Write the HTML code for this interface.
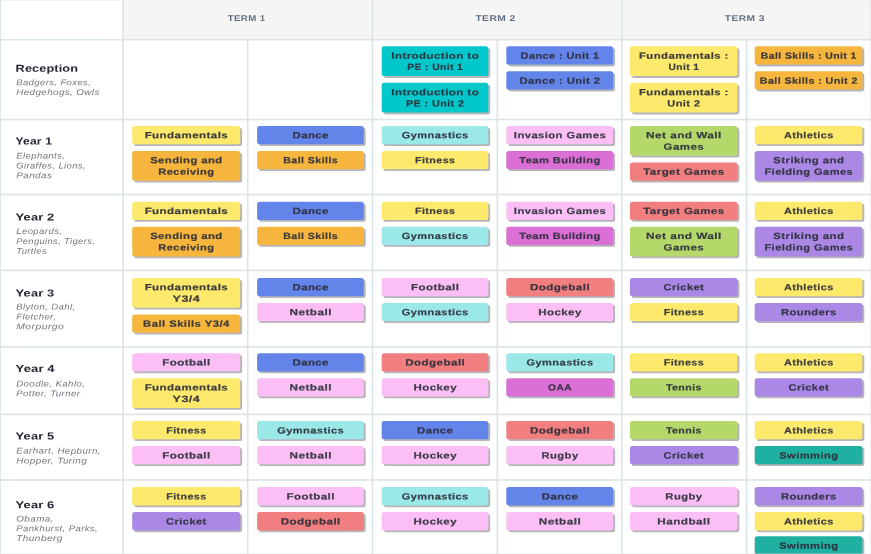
<!DOCTYPE html>
<html lang="en"><head><meta charset="utf-8"><title>PE Curriculum Map</title>
<style>html,body{margin:0;padding:0;background:#fff;overflow:hidden}svg{display:block}text{font-family:"Liberation Sans",sans-serif;text-rendering:geometricPrecision}.c{font-weight:bold;font-size:9.0px;fill:#2b2d3a;fill-opacity:.9;stroke:#2b2d3a;stroke-width:.2px;stroke-opacity:.9;text-anchor:middle;letter-spacing:0.35px}.t{font-weight:bold;font-size:10.2px;fill:#23252f;letter-spacing:0.1px}.s{font-style:italic;font-size:8.4px;fill:#74767f;letter-spacing:0.35px}.h{font-weight:bold;font-size:8.4px;fill:#5f6f83;text-anchor:middle;letter-spacing:0.35px}</style></head><body>
<svg width="871" height="554" viewBox="0 0 871 554">
<rect width="871" height="554" fill="#fff"/>
<rect x="123.1" y="0" width="748" height="39.7" fill="#f5f5f5"/>
<rect x="0" y="0" width="871" height="0.8" fill="#eeefef"/>
<rect x="122.30" y="0" width="1.6" height="554" fill="#dbe4e7"/>
<rect x="246.90" y="39.7" width="1.6" height="554" fill="#dbe4e7"/>
<rect x="371.70" y="0" width="1.6" height="554" fill="#dbe4e7"/>
<rect x="496.50" y="39.7" width="1.6" height="554" fill="#dbe4e7"/>
<rect x="621.10" y="0" width="1.6" height="554" fill="#dbe4e7"/>
<rect x="745.80" y="39.7" width="1.6" height="554" fill="#dbe4e7"/>
<rect x="0" y="0" width="0.9" height="554" fill="#dbe4e7"/>
<rect x="0" y="38.90" width="871" height="1.6" fill="#dbe4e7"/>
<rect x="0" y="118.70" width="871" height="1.6" fill="#dbe4e7"/>
<rect x="0" y="193.70" width="871" height="1.6" fill="#dbe4e7"/>
<rect x="0" y="269.60" width="871" height="1.6" fill="#dbe4e7"/>
<rect x="0" y="346.00" width="871" height="1.6" fill="#dbe4e7"/>
<rect x="0" y="413.60" width="871" height="1.6" fill="#dbe4e7"/>
<rect x="0" y="479.20" width="871" height="1.6" fill="#dbe4e7"/>
<text class="h" transform="translate(246.6 21) rotate(.03) scale(1.155 1)">TERM 1</text>
<text class="h" transform="translate(495.5 21) rotate(.03) scale(1.223 1)">TERM 2</text>
<text class="h" transform="translate(744.8 21) rotate(.03) scale(1.216 1)">TERM 3</text>
<text class="t" transform="translate(15.6 71.7) rotate(.03) scale(1.247 1)">Reception</text>
<text class="s" transform="translate(16.2 85.2) rotate(.03) scale(1.134 1)">Badgers, Foxes,</text>
<text class="s" transform="translate(16.2 95.0) rotate(.03) scale(1.171 1)">Hedgehogs, Owls</text>
<rect x="383.6" y="48.1" width="106.6" height="29.8" rx="2.6" fill="#888890" opacity="0.62"/>
<rect x="381.7" y="46.3" width="106.6" height="29.8" rx="2.6" fill="#02c8cc"/>
<text class="c" transform="translate(435.2 58.7) rotate(.03) scale(1.277 1)">Introduction to</text>
<text class="c" transform="translate(435.2 70.1) rotate(.03) scale(1.148 1)">PE : Unit 1</text>
<rect x="383.6" y="84.6" width="106.6" height="29.8" rx="2.6" fill="#888890" opacity="0.62"/>
<rect x="381.7" y="82.8" width="106.6" height="29.8" rx="2.6" fill="#02c8cc"/>
<text class="c" transform="translate(435.2 95.2) rotate(.03) scale(1.277 1)">Introduction to</text>
<text class="c" transform="translate(435.2 106.6) rotate(.03) scale(1.196 1)">PE : Unit 2</text>
<rect x="508.2" y="48.1" width="106.9" height="18.3" rx="2.6" fill="#888890" opacity="0.62"/>
<rect x="506.3" y="46.3" width="106.9" height="18.3" rx="2.6" fill="#6384e8"/>
<text class="c" transform="translate(560.0 58.7) rotate(.03) scale(1.214 1)">Dance : Unit 1</text>
<rect x="508.2" y="73.1" width="106.9" height="18.3" rx="2.6" fill="#888890" opacity="0.62"/>
<rect x="506.3" y="71.3" width="106.9" height="18.3" rx="2.6" fill="#6384e8"/>
<text class="c" transform="translate(560.0 83.7) rotate(.03) scale(1.245 1)">Dance : Unit 2</text>
<rect x="631.8" y="48.1" width="107.6" height="29.8" rx="2.6" fill="#888890" opacity="0.62"/>
<rect x="629.9" y="46.3" width="107.6" height="29.8" rx="2.6" fill="#fde96b"/>
<text class="c" transform="translate(683.9 58.7) rotate(.03) scale(1.257 1)">Fundamentals :</text>
<text class="c" transform="translate(683.9 70.1) rotate(.03) scale(1.136 1)">Unit 1</text>
<rect x="631.8" y="84.6" width="107.6" height="29.8" rx="2.6" fill="#888890" opacity="0.62"/>
<rect x="629.9" y="82.8" width="107.6" height="29.8" rx="2.6" fill="#fde96b"/>
<text class="c" transform="translate(683.9 95.2) rotate(.03) scale(1.257 1)">Fundamentals :</text>
<text class="c" transform="translate(683.9 106.6) rotate(.03) scale(1.222 1)">Unit 2</text>
<rect x="756.6" y="48.1" width="107.7" height="18.3" rx="2.6" fill="#888890" opacity="0.62"/>
<rect x="754.7" y="46.3" width="107.7" height="18.3" rx="2.6" fill="#f6b63e"/>
<text class="c" transform="translate(808.8 58.7) rotate(.03) scale(1.162 1)">Ball Skills : Unit 1</text>
<rect x="756.6" y="73.1" width="107.7" height="18.3" rx="2.6" fill="#888890" opacity="0.62"/>
<rect x="754.7" y="71.3" width="107.7" height="18.3" rx="2.6" fill="#f6b63e"/>
<text class="c" transform="translate(808.8 83.7) rotate(.03) scale(1.188 1)">Ball Skills : Unit 2</text>
<text class="t" transform="translate(15.6 144.5) rotate(.03) scale(1.188 1)">Year 1</text>
<text class="s" transform="translate(16.2 158.6) rotate(.03) scale(1.141 1)">Elephants,</text>
<text class="s" transform="translate(16.2 168.4) rotate(.03) scale(1.127 1)">Giraffes, Lions,</text>
<text class="s" transform="translate(16.2 178.3) rotate(.03) scale(1.184 1)">Pandas</text>
<rect x="134.1" y="127.7" width="108.0" height="18.3" rx="2.6" fill="#888890" opacity="0.62"/>
<rect x="132.2" y="125.9" width="108.0" height="18.3" rx="2.6" fill="#fde96b"/>
<text class="c" transform="translate(186.4 138.3) rotate(.03) scale(1.281 1)">Fundamentals</text>
<rect x="134.1" y="152.7" width="108.0" height="29.8" rx="2.6" fill="#888890" opacity="0.62"/>
<rect x="132.2" y="150.9" width="108.0" height="29.8" rx="2.6" fill="#f6b63e"/>
<text class="c" transform="translate(186.4 163.3) rotate(.03) scale(1.254 1)">Sending and</text>
<text class="c" transform="translate(186.4 174.7) rotate(.03) scale(1.229 1)">Receiving</text>
<rect x="259.0" y="127.7" width="106.7" height="18.3" rx="2.6" fill="#888890" opacity="0.62"/>
<rect x="257.1" y="125.9" width="106.7" height="18.3" rx="2.6" fill="#6384e8"/>
<text class="c" transform="translate(310.7 138.3) rotate(.03) scale(1.264 1)">Dance</text>
<rect x="259.0" y="152.7" width="106.7" height="18.3" rx="2.6" fill="#888890" opacity="0.62"/>
<rect x="257.1" y="150.9" width="106.7" height="18.3" rx="2.6" fill="#f6b63e"/>
<text class="c" transform="translate(310.7 163.3) rotate(.03) scale(1.184 1)">Ball Skills</text>
<rect x="383.6" y="127.7" width="106.6" height="18.3" rx="2.6" fill="#888890" opacity="0.62"/>
<rect x="381.7" y="125.9" width="106.6" height="18.3" rx="2.6" fill="#9ae8e7"/>
<text class="c" transform="translate(435.2 138.3) rotate(.03) scale(1.229 1)">Gymnastics</text>
<rect x="383.6" y="152.7" width="106.6" height="18.3" rx="2.6" fill="#888890" opacity="0.62"/>
<rect x="381.7" y="150.9" width="106.6" height="18.3" rx="2.6" fill="#fde96b"/>
<text class="c" transform="translate(435.2 163.3) rotate(.03) scale(1.187 1)">Fitness</text>
<rect x="508.2" y="127.7" width="106.9" height="18.3" rx="2.6" fill="#888890" opacity="0.62"/>
<rect x="506.3" y="125.9" width="106.9" height="18.3" rx="2.6" fill="#fbbff5"/>
<text class="c" transform="translate(560.0 138.3) rotate(.03) scale(1.248 1)">Invasion Games</text>
<rect x="508.2" y="152.7" width="106.9" height="18.3" rx="2.6" fill="#888890" opacity="0.62"/>
<rect x="506.3" y="150.9" width="106.9" height="18.3" rx="2.6" fill="#dc6fd5"/>
<text class="c" transform="translate(560.0 163.3) rotate(.03) scale(1.234 1)">Team Building</text>
<rect x="631.8" y="127.7" width="107.6" height="29.8" rx="2.6" fill="#888890" opacity="0.62"/>
<rect x="629.9" y="125.9" width="107.6" height="29.8" rx="2.6" fill="#b5d86a"/>
<text class="c" transform="translate(683.9 138.3) rotate(.03) scale(1.307 1)">Net and Wall</text>
<text class="c" transform="translate(683.9 149.7) rotate(.03) scale(1.280 1)">Games</text>
<rect x="631.8" y="164.2" width="107.6" height="18.3" rx="2.6" fill="#888890" opacity="0.62"/>
<rect x="629.9" y="162.4" width="107.6" height="18.3" rx="2.6" fill="#f17f7f"/>
<text class="c" transform="translate(683.9 174.8) rotate(.03) scale(1.280 1)">Target Games</text>
<rect x="756.6" y="127.7" width="107.7" height="18.3" rx="2.6" fill="#888890" opacity="0.62"/>
<rect x="754.7" y="125.9" width="107.7" height="18.3" rx="2.6" fill="#fde96b"/>
<text class="c" transform="translate(808.8 138.3) rotate(.03) scale(1.211 1)">Athletics</text>
<rect x="756.6" y="152.7" width="107.7" height="29.8" rx="2.6" fill="#888890" opacity="0.62"/>
<rect x="754.7" y="150.9" width="107.7" height="29.8" rx="2.6" fill="#ab88e5"/>
<text class="c" transform="translate(808.8 163.3) rotate(.03) scale(1.264 1)">Striking and</text>
<text class="c" transform="translate(808.8 174.7) rotate(.03) scale(1.235 1)">Fielding Games</text>
<text class="t" transform="translate(15.6 220.5) rotate(.03) scale(1.263 1)">Year 2</text>
<text class="s" transform="translate(16.2 234.1) rotate(.03) scale(1.143 1)">Leopards,</text>
<text class="s" transform="translate(16.2 243.9) rotate(.03) scale(1.112 1)">Penguins, Tigers,</text>
<text class="s" transform="translate(16.2 253.8) rotate(.03) scale(1.123 1)">Turtles</text>
<rect x="134.1" y="203.5" width="108.0" height="18.3" rx="2.6" fill="#888890" opacity="0.62"/>
<rect x="132.2" y="201.7" width="108.0" height="18.3" rx="2.6" fill="#fde96b"/>
<text class="c" transform="translate(186.4 214.1) rotate(.03) scale(1.281 1)">Fundamentals</text>
<rect x="134.1" y="228.5" width="108.0" height="29.8" rx="2.6" fill="#888890" opacity="0.62"/>
<rect x="132.2" y="226.7" width="108.0" height="29.8" rx="2.6" fill="#f6b63e"/>
<text class="c" transform="translate(186.4 239.1) rotate(.03) scale(1.254 1)">Sending and</text>
<text class="c" transform="translate(186.4 250.5) rotate(.03) scale(1.229 1)">Receiving</text>
<rect x="259.0" y="203.5" width="106.7" height="18.3" rx="2.6" fill="#888890" opacity="0.62"/>
<rect x="257.1" y="201.7" width="106.7" height="18.3" rx="2.6" fill="#6384e8"/>
<text class="c" transform="translate(310.7 214.1) rotate(.03) scale(1.264 1)">Dance</text>
<rect x="259.0" y="228.5" width="106.7" height="18.3" rx="2.6" fill="#888890" opacity="0.62"/>
<rect x="257.1" y="226.7" width="106.7" height="18.3" rx="2.6" fill="#f6b63e"/>
<text class="c" transform="translate(310.7 239.1) rotate(.03) scale(1.184 1)">Ball Skills</text>
<rect x="383.6" y="203.5" width="106.6" height="18.3" rx="2.6" fill="#888890" opacity="0.62"/>
<rect x="381.7" y="201.7" width="106.6" height="18.3" rx="2.6" fill="#fde96b"/>
<text class="c" transform="translate(435.2 214.1) rotate(.03) scale(1.187 1)">Fitness</text>
<rect x="383.6" y="228.5" width="106.6" height="18.3" rx="2.6" fill="#888890" opacity="0.62"/>
<rect x="381.7" y="226.7" width="106.6" height="18.3" rx="2.6" fill="#9ae8e7"/>
<text class="c" transform="translate(435.2 239.1) rotate(.03) scale(1.229 1)">Gymnastics</text>
<rect x="508.2" y="203.5" width="106.9" height="18.3" rx="2.6" fill="#888890" opacity="0.62"/>
<rect x="506.3" y="201.7" width="106.9" height="18.3" rx="2.6" fill="#fbbff5"/>
<text class="c" transform="translate(560.0 214.1) rotate(.03) scale(1.248 1)">Invasion Games</text>
<rect x="508.2" y="228.5" width="106.9" height="18.3" rx="2.6" fill="#888890" opacity="0.62"/>
<rect x="506.3" y="226.7" width="106.9" height="18.3" rx="2.6" fill="#dc6fd5"/>
<text class="c" transform="translate(560.0 239.1) rotate(.03) scale(1.234 1)">Team Building</text>
<rect x="631.8" y="203.5" width="107.6" height="18.3" rx="2.6" fill="#888890" opacity="0.62"/>
<rect x="629.9" y="201.7" width="107.6" height="18.3" rx="2.6" fill="#f17f7f"/>
<text class="c" transform="translate(683.9 214.1) rotate(.03) scale(1.280 1)">Target Games</text>
<rect x="631.8" y="228.5" width="107.6" height="29.8" rx="2.6" fill="#888890" opacity="0.62"/>
<rect x="629.9" y="226.7" width="107.6" height="29.8" rx="2.6" fill="#b5d86a"/>
<text class="c" transform="translate(683.9 239.1) rotate(.03) scale(1.307 1)">Net and Wall</text>
<text class="c" transform="translate(683.9 250.5) rotate(.03) scale(1.280 1)">Games</text>
<rect x="756.6" y="203.5" width="107.7" height="18.3" rx="2.6" fill="#888890" opacity="0.62"/>
<rect x="754.7" y="201.7" width="107.7" height="18.3" rx="2.6" fill="#fde96b"/>
<text class="c" transform="translate(808.8 214.1) rotate(.03) scale(1.211 1)">Athletics</text>
<rect x="756.6" y="228.5" width="107.7" height="29.8" rx="2.6" fill="#888890" opacity="0.62"/>
<rect x="754.7" y="226.7" width="107.7" height="29.8" rx="2.6" fill="#ab88e5"/>
<text class="c" transform="translate(808.8 239.1) rotate(.03) scale(1.264 1)">Striking and</text>
<text class="c" transform="translate(808.8 250.5) rotate(.03) scale(1.235 1)">Fielding Games</text>
<text class="t" transform="translate(15.6 296.5) rotate(.03) scale(1.263 1)">Year 3</text>
<text class="s" transform="translate(16.2 309.6) rotate(.03) scale(1.142 1)">Blyton, Dahl,</text>
<text class="s" transform="translate(16.2 319.5) rotate(.03) scale(1.134 1)">Fletcher,</text>
<text class="s" transform="translate(16.2 329.3) rotate(.03) scale(1.245 1)">Morpurgo</text>
<rect x="134.1" y="279.7" width="108.0" height="29.8" rx="2.6" fill="#888890" opacity="0.62"/>
<rect x="132.2" y="277.9" width="108.0" height="29.8" rx="2.6" fill="#fde96b"/>
<text class="c" transform="translate(186.4 290.3) rotate(.03) scale(1.281 1)">Fundamentals</text>
<text class="c" transform="translate(186.4 301.7) rotate(.03) scale(1.395 1)">Y3/4</text>
<rect x="134.1" y="316.2" width="108.0" height="18.3" rx="2.6" fill="#888890" opacity="0.62"/>
<rect x="132.2" y="314.4" width="108.0" height="18.3" rx="2.6" fill="#f6b63e"/>
<text class="c" transform="translate(186.4 326.8) rotate(.03) scale(1.255 1)">Ball Skills Y3/4</text>
<rect x="259.0" y="279.7" width="106.7" height="18.3" rx="2.6" fill="#888890" opacity="0.62"/>
<rect x="257.1" y="277.9" width="106.7" height="18.3" rx="2.6" fill="#6384e8"/>
<text class="c" transform="translate(310.7 290.3) rotate(.03) scale(1.264 1)">Dance</text>
<rect x="259.0" y="304.7" width="106.7" height="18.3" rx="2.6" fill="#888890" opacity="0.62"/>
<rect x="257.1" y="302.9" width="106.7" height="18.3" rx="2.6" fill="#fbbff5"/>
<text class="c" transform="translate(310.7 315.3) rotate(.03) scale(1.305 1)">Netball</text>
<rect x="383.6" y="279.7" width="106.6" height="18.3" rx="2.6" fill="#888890" opacity="0.62"/>
<rect x="381.7" y="277.9" width="106.6" height="18.3" rx="2.6" fill="#fbbff5"/>
<text class="c" transform="translate(435.2 290.3) rotate(.03) scale(1.279 1)">Football</text>
<rect x="383.6" y="304.7" width="106.6" height="18.3" rx="2.6" fill="#888890" opacity="0.62"/>
<rect x="381.7" y="302.9" width="106.6" height="18.3" rx="2.6" fill="#9ae8e7"/>
<text class="c" transform="translate(435.2 315.3) rotate(.03) scale(1.229 1)">Gymnastics</text>
<rect x="508.2" y="279.7" width="106.9" height="18.3" rx="2.6" fill="#888890" opacity="0.62"/>
<rect x="506.3" y="277.9" width="106.9" height="18.3" rx="2.6" fill="#f17f7f"/>
<text class="c" transform="translate(560.0 290.3) rotate(.03) scale(1.289 1)">Dodgeball</text>
<rect x="508.2" y="304.7" width="106.9" height="18.3" rx="2.6" fill="#888890" opacity="0.62"/>
<rect x="506.3" y="302.9" width="106.9" height="18.3" rx="2.6" fill="#fbbff5"/>
<text class="c" transform="translate(560.0 315.3) rotate(.03) scale(1.276 1)">Hockey</text>
<rect x="631.8" y="279.7" width="107.6" height="18.3" rx="2.6" fill="#888890" opacity="0.62"/>
<rect x="629.9" y="277.9" width="107.6" height="18.3" rx="2.6" fill="#ab88e5"/>
<text class="c" transform="translate(683.9 290.3) rotate(.03) scale(1.232 1)">Cricket</text>
<rect x="631.8" y="304.7" width="107.6" height="18.3" rx="2.6" fill="#888890" opacity="0.62"/>
<rect x="629.9" y="302.9" width="107.6" height="18.3" rx="2.6" fill="#fde96b"/>
<text class="c" transform="translate(683.9 315.3) rotate(.03) scale(1.187 1)">Fitness</text>
<rect x="756.6" y="279.7" width="107.7" height="18.3" rx="2.6" fill="#888890" opacity="0.62"/>
<rect x="754.7" y="277.9" width="107.7" height="18.3" rx="2.6" fill="#fde96b"/>
<text class="c" transform="translate(808.8 290.3) rotate(.03) scale(1.211 1)">Athletics</text>
<rect x="756.6" y="304.7" width="107.7" height="18.3" rx="2.6" fill="#888890" opacity="0.62"/>
<rect x="754.7" y="302.9" width="107.7" height="18.3" rx="2.6" fill="#ab88e5"/>
<text class="c" transform="translate(808.8 315.3) rotate(.03) scale(1.246 1)">Rounders</text>
<text class="t" transform="translate(15.6 372.1) rotate(.03) scale(1.276 1)">Year 4</text>
<text class="s" transform="translate(16.2 386.4) rotate(.03) scale(1.155 1)">Doodle, Kahlo,</text>
<text class="s" transform="translate(16.2 396.2) rotate(.03) scale(1.157 1)">Potter, Turner</text>
<rect x="134.1" y="355.0" width="108.0" height="18.3" rx="2.6" fill="#888890" opacity="0.62"/>
<rect x="132.2" y="353.2" width="108.0" height="18.3" rx="2.6" fill="#fbbff5"/>
<text class="c" transform="translate(186.4 365.6) rotate(.03) scale(1.279 1)">Football</text>
<rect x="134.1" y="380.0" width="108.0" height="29.8" rx="2.6" fill="#888890" opacity="0.62"/>
<rect x="132.2" y="378.2" width="108.0" height="29.8" rx="2.6" fill="#fde96b"/>
<text class="c" transform="translate(186.4 390.6) rotate(.03) scale(1.281 1)">Fundamentals</text>
<text class="c" transform="translate(186.4 402.0) rotate(.03) scale(1.395 1)">Y3/4</text>
<rect x="259.0" y="355.0" width="106.7" height="18.3" rx="2.6" fill="#888890" opacity="0.62"/>
<rect x="257.1" y="353.2" width="106.7" height="18.3" rx="2.6" fill="#6384e8"/>
<text class="c" transform="translate(310.7 365.6) rotate(.03) scale(1.264 1)">Dance</text>
<rect x="259.0" y="380.0" width="106.7" height="18.3" rx="2.6" fill="#888890" opacity="0.62"/>
<rect x="257.1" y="378.2" width="106.7" height="18.3" rx="2.6" fill="#fbbff5"/>
<text class="c" transform="translate(310.7 390.6) rotate(.03) scale(1.305 1)">Netball</text>
<rect x="383.6" y="355.0" width="106.6" height="18.3" rx="2.6" fill="#888890" opacity="0.62"/>
<rect x="381.7" y="353.2" width="106.6" height="18.3" rx="2.6" fill="#f17f7f"/>
<text class="c" transform="translate(435.2 365.6) rotate(.03) scale(1.289 1)">Dodgeball</text>
<rect x="383.6" y="380.0" width="106.6" height="18.3" rx="2.6" fill="#888890" opacity="0.62"/>
<rect x="381.7" y="378.2" width="106.6" height="18.3" rx="2.6" fill="#fbbff5"/>
<text class="c" transform="translate(435.2 390.6) rotate(.03) scale(1.276 1)">Hockey</text>
<rect x="508.2" y="355.0" width="106.9" height="18.3" rx="2.6" fill="#888890" opacity="0.62"/>
<rect x="506.3" y="353.2" width="106.9" height="18.3" rx="2.6" fill="#9ae8e7"/>
<text class="c" transform="translate(560.0 365.6) rotate(.03) scale(1.229 1)">Gymnastics</text>
<rect x="508.2" y="380.0" width="106.9" height="18.3" rx="2.6" fill="#888890" opacity="0.62"/>
<rect x="506.3" y="378.2" width="106.9" height="18.3" rx="2.6" fill="#dc6fd5"/>
<text class="c" transform="translate(560.0 390.6) rotate(.03) scale(1.135 1)">OAA</text>
<rect x="631.8" y="355.0" width="107.6" height="18.3" rx="2.6" fill="#888890" opacity="0.62"/>
<rect x="629.9" y="353.2" width="107.6" height="18.3" rx="2.6" fill="#fde96b"/>
<text class="c" transform="translate(683.9 365.6) rotate(.03) scale(1.187 1)">Fitness</text>
<rect x="631.8" y="380.0" width="107.6" height="18.3" rx="2.6" fill="#888890" opacity="0.62"/>
<rect x="629.9" y="378.2" width="107.6" height="18.3" rx="2.6" fill="#b5d86a"/>
<text class="c" transform="translate(683.9 390.6) rotate(.03) scale(1.183 1)">Tennis</text>
<rect x="756.6" y="355.0" width="107.7" height="18.3" rx="2.6" fill="#888890" opacity="0.62"/>
<rect x="754.7" y="353.2" width="107.7" height="18.3" rx="2.6" fill="#fde96b"/>
<text class="c" transform="translate(808.8 365.6) rotate(.03) scale(1.211 1)">Athletics</text>
<rect x="756.6" y="380.0" width="107.7" height="18.3" rx="2.6" fill="#888890" opacity="0.62"/>
<rect x="754.7" y="378.2" width="107.7" height="18.3" rx="2.6" fill="#ab88e5"/>
<text class="c" transform="translate(808.8 390.6) rotate(.03) scale(1.232 1)">Cricket</text>
<text class="t" transform="translate(15.6 439.5) rotate(.03) scale(1.263 1)">Year 5</text>
<text class="s" transform="translate(16.2 453.6) rotate(.03) scale(1.168 1)">Earhart, Hepburn,</text>
<text class="s" transform="translate(16.2 463.5) rotate(.03) scale(1.188 1)">Hopper, Turing</text>
<rect x="134.1" y="422.8" width="108.0" height="18.3" rx="2.6" fill="#888890" opacity="0.62"/>
<rect x="132.2" y="421.0" width="108.0" height="18.3" rx="2.6" fill="#fde96b"/>
<text class="c" transform="translate(186.4 433.4) rotate(.03) scale(1.187 1)">Fitness</text>
<rect x="134.1" y="447.8" width="108.0" height="18.3" rx="2.6" fill="#888890" opacity="0.62"/>
<rect x="132.2" y="446.0" width="108.0" height="18.3" rx="2.6" fill="#fbbff5"/>
<text class="c" transform="translate(186.4 458.4) rotate(.03) scale(1.279 1)">Football</text>
<rect x="259.0" y="422.8" width="106.7" height="18.3" rx="2.6" fill="#888890" opacity="0.62"/>
<rect x="257.1" y="421.0" width="106.7" height="18.3" rx="2.6" fill="#9ae8e7"/>
<text class="c" transform="translate(310.7 433.4) rotate(.03) scale(1.229 1)">Gymnastics</text>
<rect x="259.0" y="447.8" width="106.7" height="18.3" rx="2.6" fill="#888890" opacity="0.62"/>
<rect x="257.1" y="446.0" width="106.7" height="18.3" rx="2.6" fill="#fbbff5"/>
<text class="c" transform="translate(310.7 458.4) rotate(.03) scale(1.305 1)">Netball</text>
<rect x="383.6" y="422.8" width="106.6" height="18.3" rx="2.6" fill="#888890" opacity="0.62"/>
<rect x="381.7" y="421.0" width="106.6" height="18.3" rx="2.6" fill="#6384e8"/>
<text class="c" transform="translate(435.2 433.4) rotate(.03) scale(1.264 1)">Dance</text>
<rect x="383.6" y="447.8" width="106.6" height="18.3" rx="2.6" fill="#888890" opacity="0.62"/>
<rect x="381.7" y="446.0" width="106.6" height="18.3" rx="2.6" fill="#fbbff5"/>
<text class="c" transform="translate(435.2 458.4) rotate(.03) scale(1.276 1)">Hockey</text>
<rect x="508.2" y="422.8" width="106.9" height="18.3" rx="2.6" fill="#888890" opacity="0.62"/>
<rect x="506.3" y="421.0" width="106.9" height="18.3" rx="2.6" fill="#f17f7f"/>
<text class="c" transform="translate(560.0 433.4) rotate(.03) scale(1.289 1)">Dodgeball</text>
<rect x="508.2" y="447.8" width="106.9" height="18.3" rx="2.6" fill="#888890" opacity="0.62"/>
<rect x="506.3" y="446.0" width="106.9" height="18.3" rx="2.6" fill="#fbbff5"/>
<text class="c" transform="translate(560.0 458.4) rotate(.03) scale(1.248 1)">Rugby</text>
<rect x="631.8" y="422.8" width="107.6" height="18.3" rx="2.6" fill="#888890" opacity="0.62"/>
<rect x="629.9" y="421.0" width="107.6" height="18.3" rx="2.6" fill="#b5d86a"/>
<text class="c" transform="translate(683.9 433.4) rotate(.03) scale(1.183 1)">Tennis</text>
<rect x="631.8" y="447.8" width="107.6" height="18.3" rx="2.6" fill="#888890" opacity="0.62"/>
<rect x="629.9" y="446.0" width="107.6" height="18.3" rx="2.6" fill="#ab88e5"/>
<text class="c" transform="translate(683.9 458.4) rotate(.03) scale(1.232 1)">Cricket</text>
<rect x="756.6" y="422.8" width="107.7" height="18.3" rx="2.6" fill="#888890" opacity="0.62"/>
<rect x="754.7" y="421.0" width="107.7" height="18.3" rx="2.6" fill="#fde96b"/>
<text class="c" transform="translate(808.8 433.4) rotate(.03) scale(1.211 1)">Athletics</text>
<rect x="756.6" y="447.8" width="107.7" height="18.3" rx="2.6" fill="#888890" opacity="0.62"/>
<rect x="754.7" y="446.0" width="107.7" height="18.3" rx="2.6" fill="#20b0a2"/>
<text class="c" transform="translate(808.8 458.4) rotate(.03) scale(1.239 1)">Swimming</text>
<text class="t" transform="translate(15.6 508.2) rotate(.03) scale(1.263 1)">Year 6</text>
<text class="s" transform="translate(16.2 521.4) rotate(.03) scale(1.182 1)">Obama,</text>
<text class="s" transform="translate(16.2 531.2) rotate(.03) scale(1.136 1)">Pankhurst, Parks,</text>
<text class="s" transform="translate(16.2 541.1) rotate(.03) scale(1.205 1)">Thunberg</text>
<rect x="134.1" y="488.9" width="108.0" height="18.3" rx="2.6" fill="#888890" opacity="0.62"/>
<rect x="132.2" y="487.1" width="108.0" height="18.3" rx="2.6" fill="#fde96b"/>
<text class="c" transform="translate(186.4 499.5) rotate(.03) scale(1.187 1)">Fitness</text>
<rect x="134.1" y="513.9" width="108.0" height="18.3" rx="2.6" fill="#888890" opacity="0.62"/>
<rect x="132.2" y="512.1" width="108.0" height="18.3" rx="2.6" fill="#ab88e5"/>
<text class="c" transform="translate(186.4 524.5) rotate(.03) scale(1.232 1)">Cricket</text>
<rect x="259.0" y="488.9" width="106.7" height="18.3" rx="2.6" fill="#888890" opacity="0.62"/>
<rect x="257.1" y="487.1" width="106.7" height="18.3" rx="2.6" fill="#fbbff5"/>
<text class="c" transform="translate(310.7 499.5) rotate(.03) scale(1.279 1)">Football</text>
<rect x="259.0" y="513.9" width="106.7" height="18.3" rx="2.6" fill="#888890" opacity="0.62"/>
<rect x="257.1" y="512.1" width="106.7" height="18.3" rx="2.6" fill="#f17f7f"/>
<text class="c" transform="translate(310.7 524.5) rotate(.03) scale(1.289 1)">Dodgeball</text>
<rect x="383.6" y="488.9" width="106.6" height="18.3" rx="2.6" fill="#888890" opacity="0.62"/>
<rect x="381.7" y="487.1" width="106.6" height="18.3" rx="2.6" fill="#9ae8e7"/>
<text class="c" transform="translate(435.2 499.5) rotate(.03) scale(1.229 1)">Gymnastics</text>
<rect x="383.6" y="513.9" width="106.6" height="18.3" rx="2.6" fill="#888890" opacity="0.62"/>
<rect x="381.7" y="512.1" width="106.6" height="18.3" rx="2.6" fill="#fbbff5"/>
<text class="c" transform="translate(435.2 524.5) rotate(.03) scale(1.276 1)">Hockey</text>
<rect x="508.2" y="488.9" width="106.9" height="18.3" rx="2.6" fill="#888890" opacity="0.62"/>
<rect x="506.3" y="487.1" width="106.9" height="18.3" rx="2.6" fill="#6384e8"/>
<text class="c" transform="translate(560.0 499.5) rotate(.03) scale(1.264 1)">Dance</text>
<rect x="508.2" y="513.9" width="106.9" height="18.3" rx="2.6" fill="#888890" opacity="0.62"/>
<rect x="506.3" y="512.1" width="106.9" height="18.3" rx="2.6" fill="#fbbff5"/>
<text class="c" transform="translate(560.0 524.5) rotate(.03) scale(1.305 1)">Netball</text>
<rect x="631.8" y="488.9" width="107.6" height="18.3" rx="2.6" fill="#888890" opacity="0.62"/>
<rect x="629.9" y="487.1" width="107.6" height="18.3" rx="2.6" fill="#fbbff5"/>
<text class="c" transform="translate(683.9 499.5) rotate(.03) scale(1.248 1)">Rugby</text>
<rect x="631.8" y="513.9" width="107.6" height="18.3" rx="2.6" fill="#888890" opacity="0.62"/>
<rect x="629.9" y="512.1" width="107.6" height="18.3" rx="2.6" fill="#fbbff5"/>
<text class="c" transform="translate(683.9 524.5) rotate(.03) scale(1.305 1)">Handball</text>
<rect x="756.6" y="488.9" width="107.7" height="18.3" rx="2.6" fill="#888890" opacity="0.62"/>
<rect x="754.7" y="487.1" width="107.7" height="18.3" rx="2.6" fill="#ab88e5"/>
<text class="c" transform="translate(808.8 499.5) rotate(.03) scale(1.246 1)">Rounders</text>
<rect x="756.6" y="513.9" width="107.7" height="18.3" rx="2.6" fill="#888890" opacity="0.62"/>
<rect x="754.7" y="512.1" width="107.7" height="18.3" rx="2.6" fill="#fde96b"/>
<text class="c" transform="translate(808.8 524.5) rotate(.03) scale(1.211 1)">Athletics</text>
<rect x="756.6" y="538.1" width="107.7" height="18.3" rx="2.6" fill="#888890" opacity="0.62"/>
<rect x="754.7" y="536.3" width="107.7" height="18.3" rx="2.6" fill="#20b0a2"/>
<text class="c" transform="translate(808.8 548.7) rotate(.03) scale(1.239 1)">Swimming</text>
<rect x="870.3" y="0" width="0.7" height="554" fill="#dbe4e7" opacity="0.7"/>
<rect x="0" y="553.4" width="871" height="0.6" fill="#dbe4e7" opacity="0.6"/>
</svg></body></html>
